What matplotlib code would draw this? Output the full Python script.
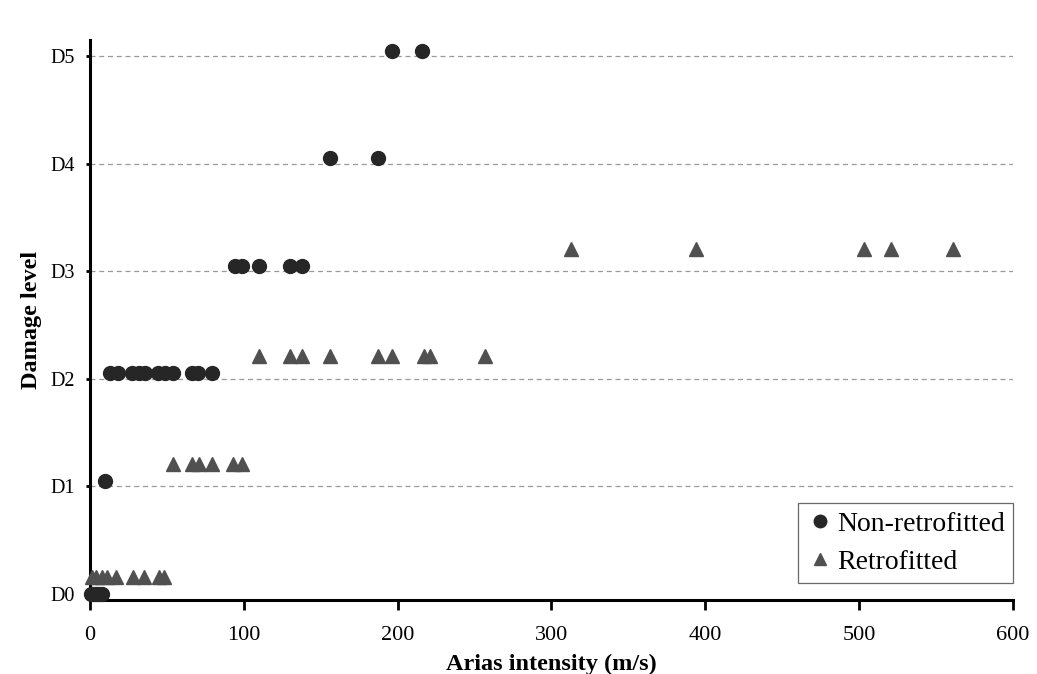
import matplotlib.pyplot as plt

# damage levels (0 = D0 ... 5 = D5)
levels = ["D0", "D1", "D2", "D3", "D4", "D5"]

# Non-retrofitted: arias intensity and damage level
non_x = [0.5, 2, 4, 6, 8,
         10,
         13, 18, 27, 32, 36, 44, 49, 54, 66, 70, 79,
         94, 99, 110, 130, 138,
         156, 187,
         196, 216]
non_lvl = [0, 0, 0, 0, 0,
           1,
           2, 2, 2, 2, 2, 2, 2, 2, 2, 2, 2,
           3, 3, 3, 3, 3,
           4, 4,
           5, 5]

# Retrofitted
ret_x = [1, 4, 8, 11, 17, 28, 35, 45, 48,
         54, 66, 71, 79, 93, 99,
         110, 130, 138, 156, 187, 196, 217, 221, 257,
         313, 394, 503, 521, 561]
ret_lvl = [0] * 9 + [1] * 6 + [2] * 9 + [3] * 5

plt.rcParams['font.family'] = ['Liberation Serif', 'DejaVu Serif']

fig = plt.figure(figsize=(10.37, 6.74), dpi=100)
ax = fig.add_axes([0.0868, 0.1098, 0.89, 0.8309])

# markers sit a little above the level line
non_y = [v + (0.0 if v == 0 else 0.05) for v in non_lvl]
ret_y = [v + (0.16 if v == 0 else 0.21) for v in ret_lvl]

for lv in range(1, 6):
    ax.axhline(lv, color='#999999', linestyle=(0, (4, 3)), linewidth=0.9, zorder=1)

ax.plot(non_x, non_y, 'o', color='#262626', markersize=10, label='Non-retrofitted',
        linestyle='none', zorder=3, clip_on=False)
ax.plot(ret_x, ret_y, '^', color='#505050', markersize=10, label='Retrofitted',
        linestyle='none', zorder=3, clip_on=False)

ax.set_xlim(0, 600)
ax.set_ylim(-0.056, 5.15)
ax.set_xticks(range(0, 601, 100))
ax.set_yticks(range(6))
ax.set_yticklabels(levels)

for s in ['top', 'right']:
    ax.spines[s].set_visible(False)
ax.spines['left'].set_linewidth(2.2)
ax.spines['bottom'].set_linewidth(2.2)
ax.tick_params(axis='x', direction='out', length=7, width=2, labelsize=16, pad=12)
ax.tick_params(axis='y', direction='out', length=3, width=2, labelsize=14.5, pad=8)

ax.set_xlabel('Arias intensity (m/s)', fontsize=17.5, fontweight='bold', labelpad=6)
ax.set_ylabel('Damage level', fontsize=17.5, fontweight='bold', labelpad=6)

leg = ax.legend(loc='lower right', bbox_to_anchor=(1.0, 0.03), fontsize=20,
                frameon=True, fancybox=False, edgecolor='#444444',
                handletextpad=0.1, handlelength=1.0, markerscale=0.9,
                borderpad=0.3, labelspacing=0.45, borderaxespad=0.0)
leg.get_frame().set_linewidth(0.9)

fig.savefig('out.png', dpi=100)
